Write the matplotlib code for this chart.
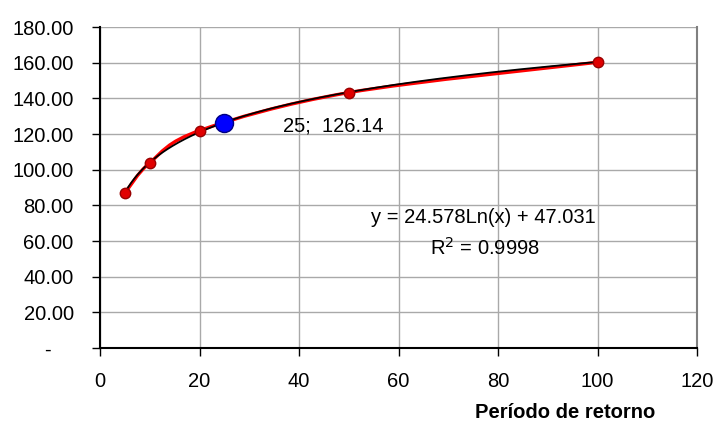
import numpy as np
import matplotlib
matplotlib.use('Agg')
import matplotlib.pyplot as plt
from matplotlib.path import Path
from matplotlib.patches import PathPatch
from matplotlib.ticker import FuncFormatter

plt.rcParams['font.family'] = ['Liberation Sans', 'DejaVu Sans']

# datos
periodo = [5, 10, 20, 50, 100]
valor = [87.0, 104.0, 122.0, 143.3, 160.3]
punto_x, punto_y = 25, 126.14
eq_text = 'y = 24.578Ln(x) + 47.031'
r2_text = 'R$^{2}$ = 0.9998'


def smooth_path(xs, ys):
    # curva suavizada tipo Excel (Catmull-Rom -> Bezier)
    pts = np.column_stack([xs, ys]).astype(float)
    ext = np.vstack([pts[0], pts, pts[-1]])
    verts = [pts[0]]
    codes = [Path.MOVETO]
    for i in range(1, len(ext) - 2):
        p0, p1, p2, p3 = ext[i - 1], ext[i], ext[i + 1], ext[i + 2]
        c1 = p1 + (p2 - p0) / 6.0
        c2 = p2 - (p3 - p1) / 6.0
        verts += [c1, c2, p2]
        codes += [Path.CURVE4] * 3
    return Path(verts, codes)


fig = plt.figure(figsize=(7.15, 4.24), dpi=100)
ax = fig.add_axes([0.14, 0.179, 0.835, 0.757])

ax.add_patch(PathPatch(smooth_path(periodo, valor), fc='none', ec='#ff0000',
                       lw=2.4, zorder=3))

a, b = np.polyfit(np.log(periodo), valor, 1)
xt = np.linspace(periodo[0], periodo[-1], 300)
ax.plot(xt, a * np.log(xt) + b, color='black', lw=1.3, zorder=4)

ax.plot(periodo, valor, 'o', ms=7.5, mfc='#e00000', mec='#990000', mew=1,
        zorder=5, ls='none')
ax.plot([punto_x], [punto_y], 'o', ms=13, mfc='#0000ff', mec='#000080',
        mew=1, zorder=6)

fs = 14.5
ax.text(36.8, 124.5, '%d;  %.2f' % (punto_x, punto_y), fontsize=fs,
        va='center', ha='left', zorder=7)
ax.text(77.0, 73.0, eq_text, fontsize=fs, ha='center', va='center', zorder=7)
ax.text(77.3, 56.5, r2_text, fontsize=fs, ha='center', va='center', zorder=7)

ax.set_xlim(0, 120)
ax.set_ylim(0, 180)
ax.set_xticks(range(0, 121, 20))
ax.set_yticks(range(0, 181, 20))
ax.yaxis.set_major_formatter(
    FuncFormatter(lambda v, p: '-    ' if v == 0 else '%.2f' % v))

ax.grid(True, color='#a9a9a9', lw=1, zorder=0)
ax.set_axisbelow(True)
ax.spines['top'].set_visible(False)
ax.spines['right'].set_color('#808080')
ax.spines['right'].set_linewidth(1.5)
ax.spines['left'].set_linewidth(1.5)
ax.spines['bottom'].set_linewidth(1.5)
ax.tick_params(axis='both', direction='out', length=6, width=1,
               labelsize=fs, color='black')
ax.tick_params(axis='y', pad=13)
ax.tick_params(axis='x', pad=11)

fig.text(565 / 715, 1 - 413 / 424, 'Período de retorno', fontsize=14.5,
         fontweight='bold', ha='center', va='center')

fig.savefig('out.png', dpi=100)
